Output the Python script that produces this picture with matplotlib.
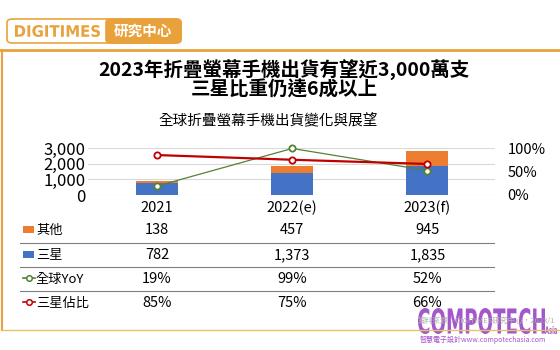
import matplotlib
matplotlib.use('Agg')
import matplotlib.pyplot as plt
import numpy as np
from matplotlib.patches import FancyBboxPatch, Rectangle, PathPatch
from matplotlib.textpath import TextPath
from matplotlib.font_manager import FontProperties
from matplotlib.transforms import Affine2D
from matplotlib.lines import Line2D

plt.rcParams['font.family'] = ['Noto Sans CJK TC', 'DejaVu Sans']

# data
years = ['2021', '2022(e)', '2023(f)']
others = [138, 457, 945]
samsung = [782, 1373, 1835]
yoy = [19, 99, 52]
share = [85, 75, 66]

W, H = 560, 350
BLUE = '#4472C4'
ORANGE = '#ED7D31'
GREEN = '#548235'
RED = '#C00000'
GOLD = '#E9A23B'
PURPLE = '#A457CC'


def fx(x):
    return x / W


def fy(y):
    return 1 - y / H


fig = plt.figure(figsize=(5.6, 3.5), dpi=100)


def path_text(s, x0, y0, x1, y1, color, family=('Liberation Sans Narrow', 'DejaVu Sans'),
              weight='bold'):
    # draw a text squeezed into a pixel box
    tp = TextPath((0, 0), s, size=1,
                  prop=FontProperties(family=list(family), weight=weight))
    ext = tp.get_extents()
    tr = (Affine2D().translate(-ext.x0, -ext.y0)
          .scale((x1 - x0) / W / ext.width, (y1 - y0) / H / ext.height)
          .translate(fx(x0), fy(y1)))
    p = tr.transform_path(tp)
    fig.add_artist(PathPatch(p, fc=color, ec='none', transform=fig.transFigure))


# frame lines
fig.add_artist(Line2D([0, 1], [fy(50), fy(50)], color=GOLD, lw=2))
fig.add_artist(Line2D([fx(2), fx(2)], [fy(50), fy(330)], color=GOLD, lw=1.5))
fig.add_artist(Line2D([fx(2), 1], [fy(330), fy(330)], color='#E6C36A', lw=1))

# logo
fig.add_artist(FancyBboxPatch((fx(7), fy(43)), fx(174), 24 / H,
                              boxstyle='round,pad=0,rounding_size=0.01',
                              fc='white', ec=GOLD, lw=1.2))
fig.add_artist(FancyBboxPatch((fx(106), fy(43)), fx(75), 24 / H,
                              boxstyle='round,pad=0,rounding_size=0.01',
                              fc=GOLD, ec=GOLD, lw=1.2))
path_text('DIGITIMES', 15, 25, 100, 37, GOLD, family=('DejaVu Sans',))
fig.text(fx(143), fy(31), '研究中心', color='white', fontsize=10.5,
         fontweight='bold', ha='center', va='center')

# titles
fig.text(fx(284), fy(70), '2023年折疊螢幕手機出貨有望近3,000萬支',
         fontsize=14, fontweight='bold', ha='center', va='center')
fig.text(fx(284), fy(90), '三星比重仍達6成以上',
         fontsize=14, fontweight='bold', ha='center', va='center')
fig.text(fx(268), fy(120), '全球折疊螢幕手機出貨變化與展望',
         fontsize=10.5, ha='center', va='center')

# chart
ax = fig.add_axes([fx(88), fy(195), (495 - 88) / W, (195 - 148) / H])
x = np.arange(len(years))
ax.bar(x, samsung, width=0.31, color=BLUE, zorder=2)
ax.bar(x, others, width=0.31, bottom=samsung, color=ORANGE, zorder=2)
ax.set_xlim(-0.51, 2.5)
ax.set_ylim(0, 3000)
ax.set_yticks([0, 1000, 2000, 3000])
ax.set_yticklabels(['0', '1,000', '2,000', '3,000'])
ax.set_xticks(x)
ax.set_xticklabels(years)
ax.grid(axis='y', color='#D9D9D9', lw=0.8, zorder=0)
ax.tick_params(axis='both', length=0, labelsize=10.5)
ax.tick_params(axis='y', pad=2, labelsize=12)
ax.tick_params(axis='x', pad=4)
for s in ax.spines.values():
    s.set_visible(False)

ax2 = ax.twinx()
ax2.set_ylim(0, 1.0)
ax2.set_yticks([0, 0.5, 1.0])
ax2.set_yticklabels(['0%', '50%', '100%'])
ax2.tick_params(axis='y', length=0, labelsize=10.5, pad=9)
for s in ax2.spines.values():
    s.set_visible(False)
ax2.plot(x, np.array(yoy) / 100, color=GREEN, lw=0.9, marker='o', ms=4.5,
         mfc='white', mec=GREEN, mew=1.3, clip_on=False, zorder=3)
ax2.plot(x, np.array(share) / 100, color=RED, lw=1.6, marker='o', ms=4.5,
         mfc='white', mec=RED, mew=1.3, clip_on=False, zorder=4)

# data table
rows_y = [230, 255, 279, 303]
row_vals = [[f'{v:,}' for v in others],
            [f'{v:,}' for v in samsung],
            [f'{v}%' for v in yoy],
            [f'{v}%' for v in share]]
row_names = ['其他', '三星', '全球YoY', '三星佔比']

fig.canvas.draw()
xpix = [ax.transData.transform((xi, 0))[0] for xi in x]
for ry, vals in zip(rows_y, row_vals):
    for xp, v in zip(xpix, vals):
        fig.text(xp / W, fy(ry), v, fontsize=10.5, ha='center', va='center')

for ry, name in zip(rows_y, row_names):
    fig.text(fx(36), fy(ry), name, fontsize=9.5, ha='left', va='center')

fig.add_artist(Rectangle((fx(23), fy(233)), fx(11), 7 / H, fc=ORANGE, ec='none'))
fig.add_artist(Rectangle((fx(23), fy(258)), fx(11), 7 / H, fc=BLUE, ec='none'))
for ry, col in [(rows_y[2], GREEN), (rows_y[3], RED)]:
    fig.add_artist(Line2D([fx(23), fx(35)], [fy(ry - 1), fy(ry - 1)], color=col, lw=1.2))
    fig.add_artist(Line2D([fx(29)], [fy(ry - 1)], color=col, marker='o',
                          ms=4, mfc='white', mec=col, mew=1.1, lw=0))

for ly in [243, 267, 291]:
    fig.add_artist(Line2D([fx(20), fx(494)], [fy(ly), fy(ly)],
                          color='#808080', lw=0.8))

# source / watermark
fig.text(fx(555), fy(321), '資料來源：DIGITIMES研究中心，2023/1', fontsize=5.5,
         color='#B0B0B0', ha='right', va='center')
path_text('COMPOTECH', 418, 308, 545, 334, PURPLE)
path_text('Asia', 545, 326, 557, 334, PURPLE)
fig.text(fx(420), fy(340), '智慧電子設計www.compotechasia.com', fontsize=5,
         color=PURPLE, ha='left', va='center')

fig.savefig('out.png', dpi=100)
